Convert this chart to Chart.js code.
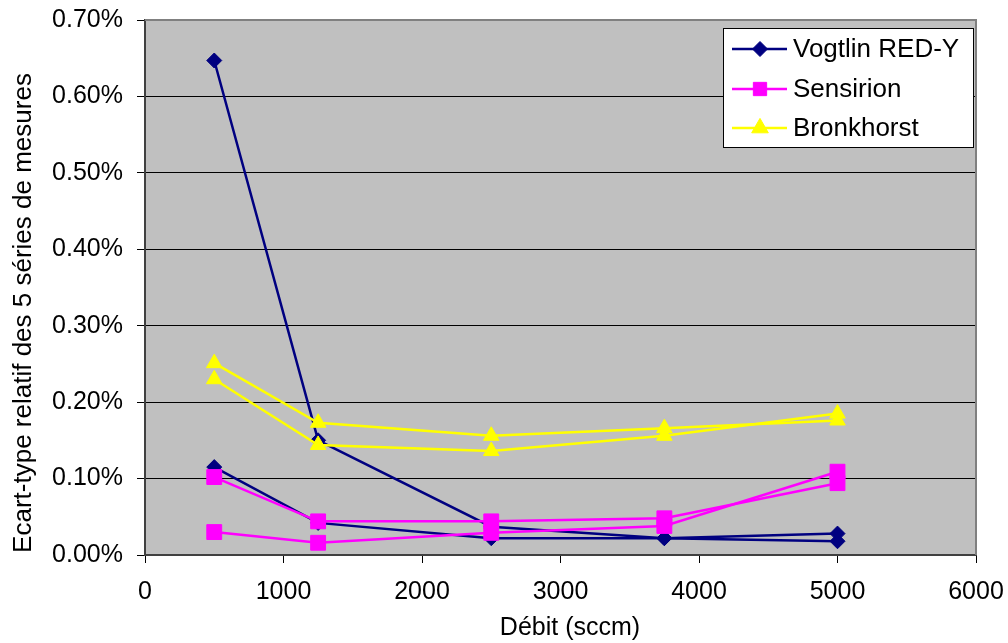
<!DOCTYPE html>
<html>
<head>
<meta charset="utf-8">
<script src="https://cdn.jsdelivr.net/npm/chart.js@4/dist/chart.umd.min.js"></script>
<style>
  body { margin: 0; background: #fff; }
  #wrap { width: 1008px; height: 643px; }
</style>
</head>
<body>
<div id="wrap"><canvas id="chart"></canvas></div>
<script>
// Débit values (sccm)
const flows = [500, 1250, 2500, 3750, 5000];

// Relative standard deviation (%) - two measurement runs per instrument
const vogtlinA = [0.647, 0.150, 0.037, 0.022, 0.018];
const vogtlinB = [0.115, 0.042, 0.022, 0.022, 0.028];
const sensirionA = [0.102, 0.044, 0.044, 0.048, 0.094];
const sensirionB = [0.030, 0.016, 0.029, 0.038, 0.109];
const bronkhorstA = [0.251, 0.173, 0.156, 0.166, 0.176];
const bronkhorstB = [0.230, 0.144, 0.136, 0.156, 0.185];

const legendNames = ['Vogtlin RED-Y', 'Sensirion', 'Bronkhorst'];
const xTitle = 'Débit (sccm)';
const yTitle = 'Ecart-type relatif des 5 séries de mesures';

const FONT = "'Liberation Sans', Arial, sans-serif";

// Build xy points for a linear x scale
function toPoints(values) {
    return values.map((v, i) => ({ x: flows[i], y: v }));
}

function makeDataset(label, values, color, shape, radius, order) {
    return {
        label: label,
        data: toPoints(values),
        borderColor: color,
        backgroundColor: color,
        borderWidth: 2.5,
        pointStyle: shape,
        pointRadius: radius,
        pointBackgroundColor: color,
        pointBorderColor: color,
        pointBorderWidth: 1,
        tension: 0,
        order: order
    };
}

const datasets = [
    makeDataset(legendNames[0], vogtlinA, '#000080', 'rectRot', 7.5, 3),
    makeDataset(legendNames[0], vogtlinB, '#000080', 'rectRot', 7.5, 3),
    makeDataset(legendNames[1], sensirionA, '#FF00FF', 'rect', 10.5, 2),
    makeDataset(legendNames[1], sensirionB, '#FF00FF', 'rect', 10.5, 2),
    makeDataset(legendNames[2], bronkhorstA, '#FFFF00', 'triangle', 9, 1),
    makeDataset(legendNames[2], bronkhorstB, '#FFFF00', 'triangle', 9, 1)
];

// kill the automatic label overhang padding so the plot area stays put
function noPadding(scale) {
    scale.paddingTop = 0;
    scale.paddingBottom = 0;
    scale.paddingLeft = 0;
    scale.paddingRight = 0;
}

// Grey plot area, gray top/right border, axis titles and Excel-like legend box
const plotArea = {
    id: 'plotArea',
    beforeDraw(chart) {
        const { ctx, chartArea: a } = chart;
        ctx.save();
        ctx.fillStyle = '#C0C0C0';
        ctx.fillRect(a.left, a.top, a.right - a.left, a.bottom - a.top);
        ctx.restore();
    },
    afterDraw(chart) {
        const { ctx, chartArea: a } = chart;
        ctx.save();
        ctx.strokeStyle = '#808080';
        ctx.lineWidth = 2;
        ctx.beginPath();
        ctx.moveTo(a.left, a.top);
        ctx.lineTo(a.right, a.top);
        ctx.lineTo(a.right, a.bottom);
        ctx.stroke();

        // axis titles
        ctx.fillStyle = '#000';
        ctx.textAlign = 'center';
        ctx.textBaseline = 'middle';
        ctx.font = '25px ' + FONT;
        ctx.fillText(xTitle, 570, 628);
        ctx.save();
        ctx.translate(24, 313);
        ctx.rotate(-Math.PI / 2);
        ctx.font = '26px ' + FONT;
        ctx.fillText(yTitle, 0, 0);
        ctx.restore();

        // legend
        const bx = 723.5, by = 28.5, bw = 250, bh = 119;
        ctx.fillStyle = '#fff';
        ctx.fillRect(bx, by, bw, bh);
        ctx.strokeStyle = '#000';
        ctx.lineWidth = 1;
        ctx.strokeRect(bx, by, bw, bh);

        const rows = [
            { ds: datasets[0], y: 49, r: 7.5 },
            { ds: datasets[2], y: 89, r: 9.4 },
            { ds: datasets[4], y: 128, r: 9.6 }
        ];
        rows.forEach((row, i) => {
            ctx.strokeStyle = row.ds.borderColor;
            ctx.lineWidth = 2.5;
            ctx.beginPath();
            ctx.moveTo(732, row.y);
            ctx.lineTo(787, row.y);
            ctx.stroke();
            ctx.fillStyle = row.ds.backgroundColor;
            ctx.strokeStyle = row.ds.borderColor;
            ctx.lineWidth = 1;
            Chart.helpers.drawPoint(ctx, {
                pointStyle: row.ds.pointStyle,
                radius: row.r,
                borderWidth: 1,
                rotation: 0
            }, 760, row.y);
            ctx.fillStyle = '#000';
            ctx.font = '26px ' + FONT;
            ctx.textAlign = 'left';
            ctx.textBaseline = 'middle';
            ctx.fillText(legendNames[i], 793, row.y + 1);
        });
        ctx.restore();
    }
};

new Chart(document.getElementById('chart'), {
    type: 'line',
    data: { datasets: datasets },
    plugins: [plotArea],
    options: {
        responsive: true,
        maintainAspectRatio: false,
        animation: false,
        layout: { padding: { top: 20, right: 32, left: 0, bottom: 0 } },
        plugins: {
            legend: { display: false },
            tooltip: { enabled: false }
        },
        scales: {
            x: {
                type: 'linear',
                min: 0,
                max: 6000,
                afterFit(scale) { scale.height = 88; noPadding(scale); },
                ticks: {
                    stepSize: 1000,
                    color: '#000',
                    padding: 14,
                    maxRotation: 0,
                    font: { family: FONT, size: 25 },
                    callback: v => String(v)
                },
                grid: {
                    drawOnChartArea: false,
                    tickLength: 8,
                    tickColor: '#000'
                },
                border: { color: '#404040', width: 2 }
            },
            y: {
                min: 0,
                max: 0.7,
                afterFit(scale) { scale.width = 145; noPadding(scale); },
                ticks: {
                    stepSize: 0.1,
                    color: '#000',
                    padding: 14,
                    font: { family: FONT, size: 25 },
                    callback: v => v.toFixed(2) + '%'
                },
                grid: {
                    color: ctx => (ctx.tick && ctx.tick.value >= 0.7 ? '#808080' : '#000'),
                    lineWidth: 1,
                    tickLength: 8,
                    tickColor: '#000'
                },
                border: { color: '#404040', width: 2 }
            }
        }
    }
});
</script>
</body>
</html>
